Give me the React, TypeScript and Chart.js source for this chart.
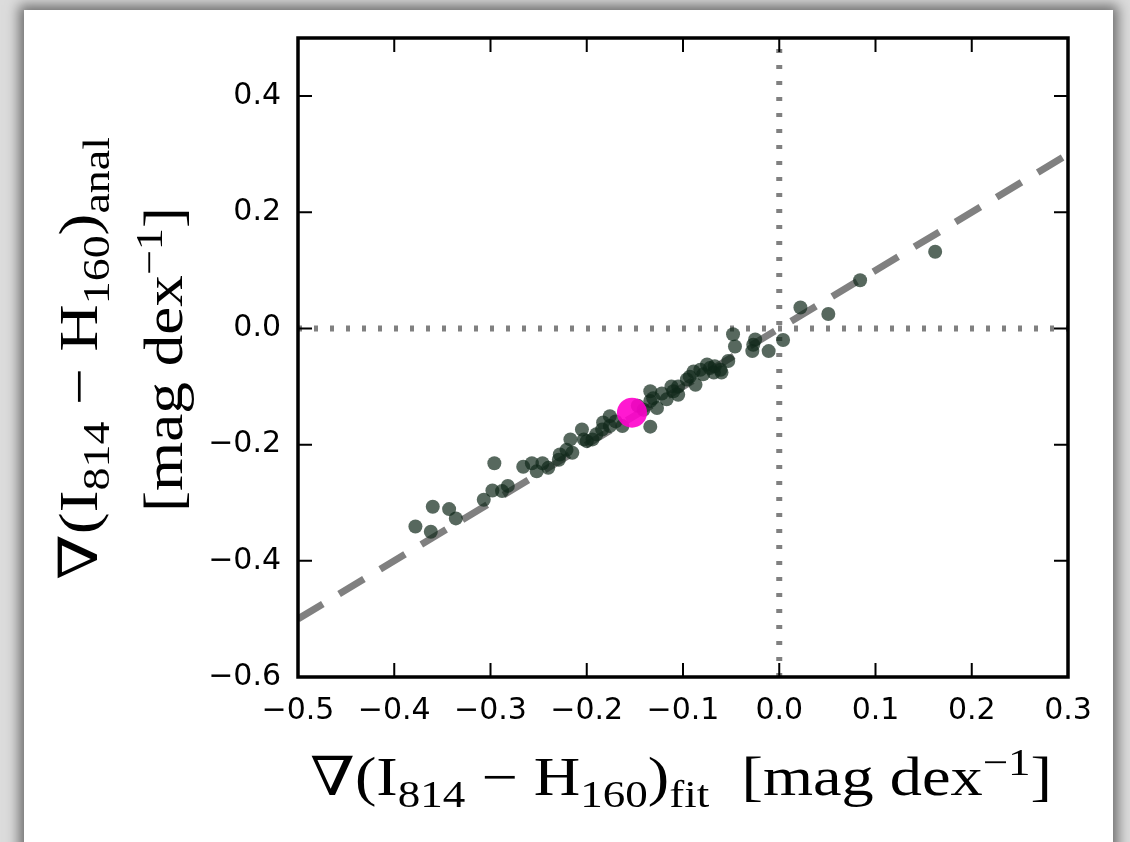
import React, { useEffect, useRef } from "react";
import { Chart, registerables } from "chart.js";

Chart.register(...registerables);

// ---- data ----
const fitGradient = [
  -0.378, -0.36, -0.362, -0.343, -0.336, -0.307, -0.298, -0.296, -0.288, -0.282,
  -0.266, -0.257, -0.252, -0.246, -0.24, -0.229, -0.228, -0.221, -0.217, -0.215,
  -0.205, -0.203, -0.2, -0.194, -0.184, -0.183, -0.176, -0.176, -0.163, -0.134,
  -0.141, -0.134, -0.131, -0.127, -0.134, -0.117, -0.112, -0.11, -0.105, -0.105,
  -0.096, -0.089, -0.087, -0.082, -0.079, -0.075, -0.068, -0.067, -0.061, -0.06,
  -0.053, -0.048, -0.046, -0.028, -0.027, -0.025, -0.011, 0.004, 0.022, 0.051,
  0.084, 0.162, -0.147, -0.122, -0.093, -0.072, -0.17, -0.19,
];
const analGradient = [
  -0.341, -0.307, -0.35, -0.311, -0.327, -0.295, -0.279, -0.232, -0.28, -0.271,
  -0.238, -0.232, -0.246, -0.232, -0.24, -0.226, -0.217, -0.209, -0.191, -0.214,
  -0.174, -0.191, -0.194, -0.191, -0.174, -0.162, -0.151, -0.168, -0.168, -0.169,
  -0.14, -0.108, -0.12, -0.137, -0.125, -0.122, -0.1, -0.108, -0.114, -0.1,
  -0.088, -0.074, -0.097, -0.071, -0.079, -0.062, -0.076, -0.065, -0.071, -0.076,
  -0.056, -0.01, -0.031, -0.039, -0.028, -0.019, -0.039, -0.02, 0.036, 0.025,
  0.083, 0.132, -0.133, -0.112, -0.083, -0.068, -0.16, -0.182,
];
const highlightFit = [-0.153];
const highlightAnal = [-0.145];

const oneToOneX = [-0.5, 0.3];
const oneToOneY = [-0.5, 0.3];
const zeroHorizX = [-0.5, 0.3];
const zeroHorizY = [0, 0];
const zeroVertX = [0, 0];
const zeroVertY = [-0.6, 0.5];

const xRange = [-0.5, 0.3];
const yRange = [-0.6, 0.5];
const xTicks = [-0.5, -0.4, -0.3, -0.2, -0.1, 0.0, 0.1, 0.2, 0.3];
const xTickLabels = ["−0.5", "−0.4", "−0.3", "−0.2", "−0.1", "0.0", "0.1", "0.2", "0.3"];
const yTicks = [-0.6, -0.4, -0.2, 0.0, 0.2, 0.4];
const yTickLabels = ["−0.6", "−0.4", "−0.2", "0.0", "0.2", "0.4"];

type Seg = { t: string; k: "n" | "sub" | "sup" };
const xTitle: Seg[] = [
  { t: "∇(I", k: "n" },
  { t: "814", k: "sub" },
  { t: " − H", k: "n" },
  { t: "160", k: "sub" },
  { t: ")", k: "n" },
  { t: "fit", k: "sub" },
  { t: "  [mag dex", k: "n" },
  { t: "−1", k: "sup" },
  { t: "]", k: "n" },
];
const yTitleLine1: Seg[] = [
  { t: "∇(I", k: "n" },
  { t: "814", k: "sub" },
  { t: " − H", k: "n" },
  { t: "160", k: "sub" },
  { t: ")", k: "n" },
  { t: "anal", k: "sub" },
];
const yTitleLine2: Seg[] = [
  { t: "[mag dex", k: "n" },
  { t: "−1", k: "sup" },
  { t: "]", k: "n" },
];

const SERIF = '"Liberation Serif", "DejaVu Serif", serif';
const TITLE_SIZE = 54;

function drawRich(
  ctx: CanvasRenderingContext2D,
  segs: Seg[],
  cx: number,
  baseY: number,
  F: number,
  targetW: number
) {
  const size = (k: string) => (k === "n" ? F : F * 0.7);
  const dy = (k: string) => (k === "sub" ? F * 0.23 : k === "sup" ? -F * 0.37 : 0);
  let w = 0;
  for (const s of segs) {
    ctx.font = `${size(s.k)}px ${SERIF}`;
    w += ctx.measureText(s.t).width;
  }
  const sx = targetW / w;
  ctx.save();
  ctx.translate(cx - targetW / 2, baseY);
  ctx.scale(sx, 1);
  let x = 0;
  ctx.textAlign = "left";
  ctx.textBaseline = "alphabetic";
  ctx.fillStyle = "#000";
  for (const s of segs) {
    ctx.font = `${size(s.k)}px ${SERIF}`;
    ctx.fillText(s.t, x, dy(s.k));
    x += ctx.measureText(s.t).width;
  }
  ctx.restore();
}

const framePlugin = {
  id: "frameTicks",
  afterDatasetsDraw(chart: any) {
    const ctx: CanvasRenderingContext2D = chart.ctx;
    const { left, right, top, bottom } = chart.chartArea;
    const xs = chart.scales.x;
    const ys = chart.scales.y;
    const TL = 14;
    ctx.save();
    ctx.strokeStyle = "#000";
    ctx.lineWidth = 2;
    ctx.beginPath();
    for (const v of xTicks) {
      const p = xs.getPixelForValue(v);
      ctx.moveTo(p, bottom);
      ctx.lineTo(p, bottom - TL);
      ctx.moveTo(p, top);
      ctx.lineTo(p, top + TL);
    }
    for (const v of yTicks) {
      const p = ys.getPixelForValue(v);
      ctx.moveTo(left, p);
      ctx.lineTo(left + TL, p);
      ctx.moveTo(right, p);
      ctx.lineTo(right - TL, p);
    }
    ctx.stroke();
    ctx.lineWidth = 3.5;
    ctx.strokeRect(left, top, right - left, bottom - top);
    ctx.restore();
  },
};

const titlePlugin = {
  id: "mathTitles",
  afterDraw(chart: any) {
    const ctx: CanvasRenderingContext2D = chart.ctx;
    const { left, right, top, bottom } = chart.chartArea;
    ctx.save();
    drawRich(ctx, xTitle, (left + right) / 2 - 2, bottom + 118, TITLE_SIZE, 742);
    const cy = (top + bottom) / 2;
    ctx.save();
    ctx.translate(97, cy + 1);
    ctx.rotate(-Math.PI / 2);
    drawRich(ctx, yTitleLine1, 0, 0, TITLE_SIZE, 443);
    ctx.restore();
    ctx.save();
    ctx.translate(182, cy + 2);
    ctx.rotate(-Math.PI / 2);
    drawRich(ctx, yTitleLine2, 0, 0, TITLE_SIZE, 305);
    ctx.restore();
    ctx.restore();
  },
};

export default function App() {
  const ref = useRef<HTMLCanvasElement | null>(null);

  useEffect(() => {
    if (!ref.current) return;
    const pts = fitGradient.map((x, i) => ({ x, y: analGradient[i] }));
    const hi = highlightFit.map((x, i) => ({ x, y: highlightAnal[i] }));
    const line = (xa: number[], ya: number[]) => xa.map((x, i) => ({ x, y: ya[i] }));
    const tickFont = { family: '"DejaVu Sans", sans-serif', size: 30 };

    const chart = new Chart(ref.current, {
      type: "scatter",
      data: {
        datasets: [
          {
            data: hi,
            pointRadius: 15,
            pointBackgroundColor: "rgba(255,0,204,0.9)",
            pointBorderWidth: 0,
            pointHoverRadius: 15,
          },
          {
            data: pts,
            pointRadius: 7,
            pointBackgroundColor: "rgba(15,40,25,0.7)",
            pointBorderWidth: 0,
            pointHoverRadius: 7,
          },
          {
            data: line(oneToOneX, oneToOneY),
            showLine: true,
            pointRadius: 0,
            borderColor: "rgb(128,128,128)",
            borderWidth: 7,
            borderDash: [29, 19],
            borderCapStyle: "butt",
            clip: 0,
          },
          {
            data: line(zeroHorizX, zeroHorizY),
            showLine: true,
            pointRadius: 0,
            borderColor: "rgb(128,128,128)",
            borderWidth: 6,
            borderDash: [4, 12],
            borderCapStyle: "butt",
            clip: 0,
          },
          {
            data: line(zeroVertX, zeroVertY),
            showLine: true,
            pointRadius: 0,
            borderColor: "rgb(128,128,128)",
            borderWidth: 6,
            borderDash: [4, 12],
            borderCapStyle: "butt",
            clip: 0,
          },
        ] as any,
      },
      options: {
        responsive: false,
        animation: false,
        events: [],
        layout: { padding: { top: 38, right: 62, left: 0, bottom: 0 } },
        plugins: { legend: { display: false }, tooltip: { enabled: false } },
        scales: {
          x: {
            type: "linear",
            min: xRange[0],
            max: xRange[1],
            afterBuildTicks: (s: any) => {
              s.ticks = xTicks.map((v) => ({ value: v }));
            },
            afterFit: (s: any) => {
              s.height = 165;
            },
            grid: { display: false, drawTicks: false },
            border: { display: false },
            ticks: {
              padding: 16,
              font: tickFont,
              color: "#000",
              maxRotation: 0,
              autoSkip: false,
              callback: (_v: any, i: number) => xTickLabels[i] ?? "",
            },
          },
          y: {
            type: "linear",
            min: yRange[0],
            max: yRange[1],
            afterBuildTicks: (s: any) => {
              s.ticks = yTicks.map((v) => ({ value: v }));
            },
            afterFit: (s: any) => {
              s.width = 298;
            },
            grid: { display: false, drawTicks: false },
            border: { display: false },
            ticks: {
              padding: 17,
              font: tickFont,
              color: "#000",
              autoSkip: false,
              callback: (_v: any, i: number) => yTickLabels[i] ?? "",
            },
          },
        },
      } as any,
      plugins: [framePlugin, titlePlugin],
    });
    return () => chart.destroy();
  }, []);

  return (
    <div
      style={{
        position: "absolute",
        left: 0,
        top: 0,
        width: 1130,
        height: 842,
        background: "#dcdcdc",
        overflow: "hidden",
      }}
    >
      <div
        style={{
          position: "absolute",
          left: 24,
          top: 10,
          width: 1089,
          height: 900,
          background: "#fff",
          boxShadow: "0 0 12px 5px rgba(0,0,0,0.5)",
        }}
      />
      <canvas
        ref={ref}
        width={1130}
        height={842}
        style={{ position: "absolute", left: 0, top: 0, width: 1130, height: 842 }}
      />
    </div>
  );
}
